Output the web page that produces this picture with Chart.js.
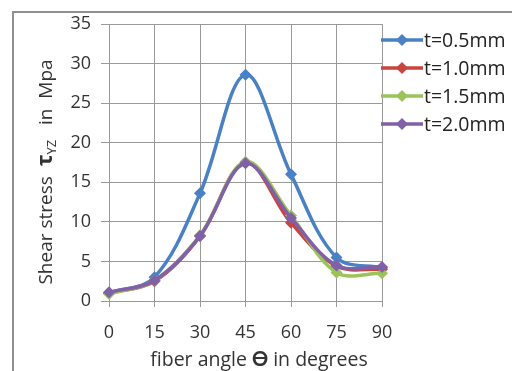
<!DOCTYPE html>
<html>
<head>
<meta charset="utf-8">
<script src="https://cdn.jsdelivr.net/npm/chart.js@4"></script>
<style>
    html, body { margin: 0; padding: 0; background: #fff; }
    #wrap { position: relative; width: 512px; height: 371px; overflow: hidden; }
    #frame { position: absolute; left: 12px; top: 11px; width: 600px; height: 500px; border: 2px solid #8f8f8f; box-sizing: border-box; }
    canvas { position: absolute; left: 0; top: 0; }
</style>
</head>
<body>
<div id="wrap">
    <div id="frame"></div>
    <canvas id="shearChart" width="512" height="371"></canvas>
</div>
<script>
// fiber angles (degrees)
const angles = ['0', '15', '30', '45', '60', '75', '90'];
const seriesNames = ['t=0.5mm', 't=1.0mm', 't=1.5mm', 't=2.0mm'];

// shear stress tau_yz in MPa
const t05 = [1.0, 3.0, 13.6, 28.6, 16.0, 5.5, 4.2];
const t10 = [1.0, 2.5, 8.2, 17.5, 9.9, 4.4, 4.0];
const t15 = [0.9, 2.6, 8.3, 17.6, 10.8, 3.6, 3.5];
const t20 = [1.1, 2.6, 8.2, 17.4, 10.5, 4.5, 4.3];

const colors = ['#4a80c4', '#c8453f', '#9bc35a', '#8061a8'];
const font = '"Open Sans", Lato, sans-serif';

const allSeries = [t05, t10, t15, t20];
const datasets = allSeries.map((vals, i) => ({
    label: seriesNames[i],
    data: vals,
    borderColor: colors[i],
    backgroundColor: colors[i],
    borderWidth: 3.5,
    pointStyle: 'rectRot',
    pointRadius: 6,
    pointBorderWidth: 0,
    tension: 0.35,
    order: 4 - i  // later series drawn on top
}));

// axis titles with sub/bold parts + legend with line and marker
const decorations = {
    id: 'decorations',
    afterDraw(chart) {
        const ctx = chart.ctx;
        ctx.save();
        ctx.fillStyle = '#333';
        ctx.textBaseline = 'alphabetic';

        // y title
        const yParts = [
            { t: 'Shear stress  ', f: '19px ' + font, dy: 0 },
            { t: 'τ', f: 'bold 22px ' + font, dy: 0 },
            { t: 'YZ', f: '13px ' + font, dy: 4 },
            { t: '   in  Mpa', f: '19px ' + font, dy: 0 }
        ];
        let total = 0;
        yParts.forEach(p => { ctx.font = p.f; p.w = ctx.measureText(p.t).width; total += p.w; });
        ctx.translate(52, 172);
        ctx.rotate(-Math.PI / 2);
        let x = -total / 2;
        yParts.forEach(p => { ctx.font = p.f; ctx.fillText(p.t, x, p.dy); x += p.w; });
        ctx.setTransform(1, 0, 0, 1, 0, 0);

        // x title
        const xParts = [
            { t: 'fiber angle ', f: '19.5px ' + font },
            { t: 'ϴ', f: 'bold 20px ' + font },
            { t: ' in degrees', f: '19.5px ' + font }
        ];
        total = 0;
        xParts.forEach(p => { ctx.font = p.f; p.w = ctx.measureText(p.t).width; total += p.w; });
        x = 259 - total / 2;
        xParts.forEach(p => { ctx.font = p.f; ctx.fillText(p.t, x, 366); x += p.w; });

        // legend
        chart.data.datasets.forEach((ds, i) => {
            const y = 40 + i * 28;
            ctx.strokeStyle = ds.borderColor;
            ctx.lineWidth = 3.5;
            ctx.beginPath();
            ctx.moveTo(381, y);
            ctx.lineTo(423, y);
            ctx.stroke();
            ctx.fillStyle = ds.borderColor;
            ctx.beginPath();
            ctx.moveTo(402, y - 6);
            ctx.lineTo(408, y);
            ctx.lineTo(402, y + 6);
            ctx.lineTo(396, y);
            ctx.closePath();
            ctx.fill();
            ctx.fillStyle = '#222';
            ctx.font = '19.5px ' + font;
            ctx.textBaseline = 'middle';
            ctx.fillText(ds.label, 424, y + 1);
        });
        ctx.restore();
    }
};

new Chart(document.getElementById('shearChart').getContext('2d'), {
    type: 'line',
    data: { labels: angles, datasets: datasets },
    options: {
        responsive: false,
        animation: false,
        layout: { padding: { top: 24, right: 130, left: 0, bottom: 0 } },
        plugins: { legend: { display: false }, tooltip: { enabled: false } },
        scales: {
            x: {
                offset: false,
                grid: { color: '#9a9a9a', lineWidth: 1, tickLength: 6, offset: false },
                border: { color: '#9a9a9a' },
                ticks: { color: '#333', font: { family: font, size: 18 }, padding: 15, maxRotation: 0 },
                afterFit: s => { s.height = 70; }
            },
            y: {
                min: 0,
                max: 35,
                ticks: { stepSize: 5, color: '#333', font: { family: font, size: 18 }, padding: 10 },
                grid: { color: '#9a9a9a', lineWidth: 1, tickLength: 8 },
                border: { color: '#9a9a9a' },
                afterFit: s => { s.width = 109; }
            }
        }
    },
    plugins: [decorations]
});
</script>
</body>
</html>
